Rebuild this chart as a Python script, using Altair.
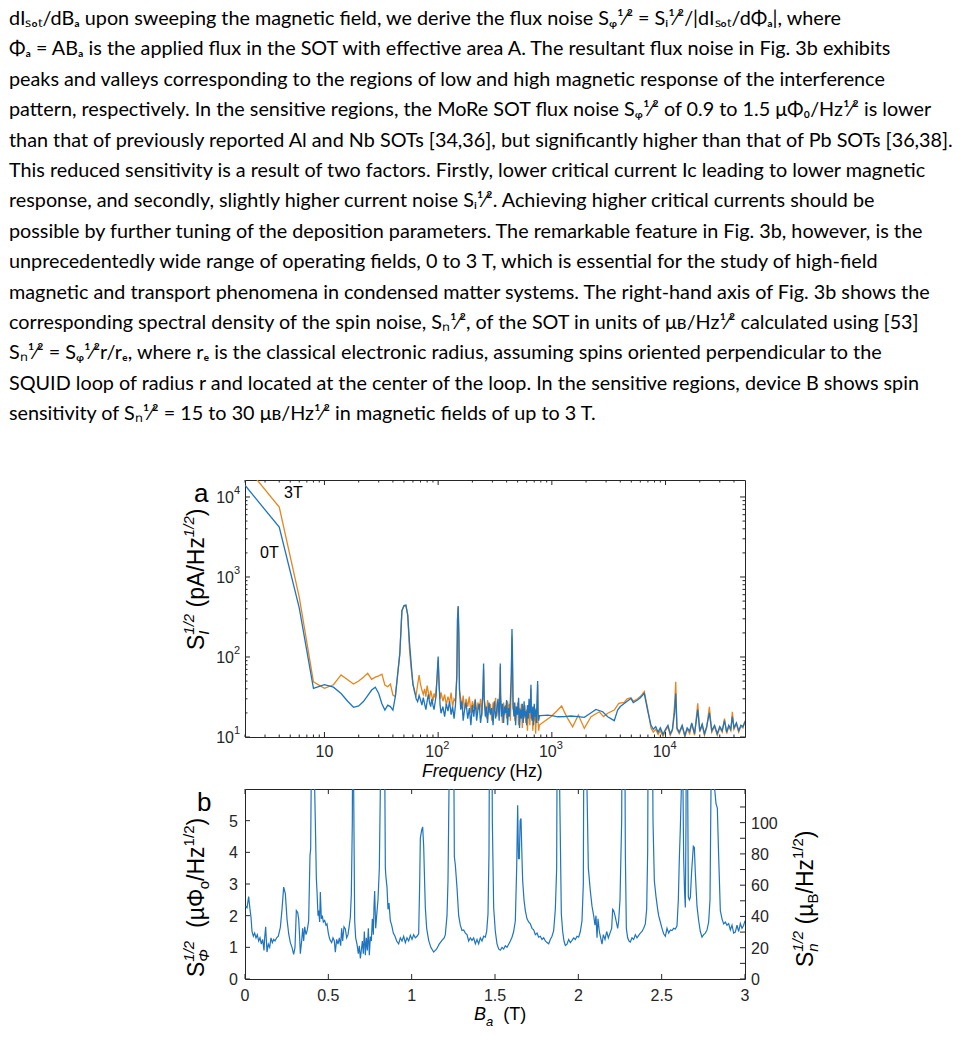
import altair as alt
import pandas as pd

# ---------------- text of the page ----------------
PARAGRAPH = [
    "dIₛₒₜ/dBₐ upon sweeping the magnetic field, we derive the flux noise Sᵩ¹⁄² = Sᵢ¹⁄²/|dIₛₒₜ/dΦₐ|, where",
    "Φₐ = ABₐ is the applied flux in the SOT with effective area A. The resultant flux noise in Fig. 3b exhibits",
    "peaks and valleys corresponding to the regions of low and high magnetic response of the interference",
    "pattern, respectively. In the sensitive regions, the MoRe SOT flux noise Sᵩ¹⁄² of 0.9 to 1.5 μΦ₀/Hz¹⁄² is lower",
    "than that of previously reported Al and Nb SOTs [34,36], but significantly higher than that of Pb SOTs [36,38].",
    "This reduced sensitivity is a result of two factors. Firstly, lower critical current Ic leading to lower magnetic",
    "response, and secondly, slightly higher current noise Sᵢ¹⁄². Achieving higher critical currents should be",
    "possible by further tuning of the deposition parameters. The remarkable feature in Fig. 3b, however, is the",
    "unprecedentedly wide range of operating fields, 0 to 3 T, which is essential for the study of high-field",
    "magnetic and transport phenomena in condensed matter systems. The right-hand axis of Fig. 3b shows the",
    "corresponding spectral density of the spin noise, Sₙ¹⁄², of the SOT in units of μʙ/Hz¹⁄² calculated using [53]",
    "Sₙ¹⁄² = Sᵩ¹⁄²r/rₑ, where rₑ is the classical electronic radius, assuming spins oriented perpendicular to the",
    "SQUID loop of radius r and located at the center of the loop. In the sensitive regions, device B shows spin",
    "sensitivity of Sₙ¹⁄² = 15 to 30 μʙ/Hz¹⁄² in magnetic fields of up to 3 T.",
]

# ---------------- panel a : current noise spectra ----------------
freq_0T = [2, 4, 6, 8, 10, 12, 14, 16, 18, 20, 22, 24, 26, 28, 30, 32, 34, 36, 38, 40,
           42, 44, 46, 48, 50, 52, 54, 56, 58, 60, 62, 64, 66, 68, 70, 72, 74, 76, 78, 80,
           82, 84, 86, 88, 90, 92, 94, 96, 98, 100, 102, 104, 106, 110, 114, 118, 122, 126, 130, 134,
           138, 142, 146, 148, 150, 152, 154, 158, 162, 166, 170, 176, 182, 188, 194, 200, 206, 212, 218, 224,
           230, 236, 242, 248, 251, 254, 260, 266, 272, 280, 288, 296, 304, 312, 320, 328, 336, 344, 350, 352,
           354, 360, 368, 376, 384, 392, 400, 408, 416, 424, 432, 440, 446, 450, 456, 464, 472, 480, 490, 500,
           510, 520, 530, 540, 550, 560, 570, 580, 590, 600, 610, 620, 630, 640, 650, 655, 660, 670, 680, 690,
           700, 710, 720, 730, 740, 750, 756, 766, 777, 800, 919, 1000, 1125, 1300, 1470, 1700, 1930, 2200, 2440, 2800,
           3100, 3540, 3790, 4000, 4330, 4600, 4960, 5200, 5670, 6000, 6500, 6950, 7440, 7800, 8200, 8600, 9000, 9500, 10000, 10500,
           11000, 11500, 12000, 12300, 12600, 13200, 14000, 14800, 15500, 16300, 17000, 18000, 19200, 20000, 21000, 22000, 23000, 24300, 25500, 27000,
           28500, 30000, 31500, 33000, 34500, 36000, 37500, 38700, 40000, 42000, 44000, 46000, 48000, 50000]
noise_0T = [14000, 4200, 410, 40.6, 45, 42, 35, 28, 23.5, 24.5, 27.7, 33, 38.6, 41.8, 35, 26, 21.7, 25, 24, 21.7,
            31.9, 60, 110, 380, 440, 447, 330, 150, 80, 45, 38, 30, 27.7, 33, 29, 25, 31, 26, 22, 28,
            34, 27, 24, 30, 25, 22, 27, 33, 60, 101, 45, 25, 19.8, 24, 18, 26, 21, 28, 19, 24,
            17, 25, 60, 300, 434, 200, 40, 22, 28, 16, 21, 27, 17, 23, 14, 25, 18, 29, 16, 22,
            26, 15, 20, 40, 83, 30, 18, 24, 15, 27, 19, 23, 14, 28, 17, 22, 30, 16, 40, 83,
            35, 18, 26, 15, 24, 20, 29, 14, 23, 18, 30, 60, 224, 120, 25, 18, 27, 14, 24, 19,
            31, 13, 22, 17, 26, 15, 28, 18, 21, 14, 25, 17, 30, 20, 30, 45, 20, 16, 24, 14,
            26, 18, 22, 15, 27, 50, 20, 16, 18.5, 18.5, 18.8, 18.5, 17.9, 18.0, 18.3, 18.0, 17.6, 20, 22.1, 20.7,
            17.9, 16, 21.7, 24, 26.3, 28, 30.4, 27, 29, 31, 35.1, 21.7, 14.1, 12.5, 13.5, 11.5, 13, 10.8, 12.5, 14,
            11, 12.5, 20, 35, 13, 11.5, 14, 10.5, 13, 11.8, 15, 11, 22, 12, 14.5, 11, 13.5, 20, 12, 14,
            11, 13.5, 12, 16, 11.5, 14, 12.5, 18, 13, 15, 12, 14, 13.5, 15.5]

freq_3T = [2, 4, 6, 8, 10, 12, 14, 16, 18, 20, 22, 24, 26, 28, 30, 32, 34, 36, 38, 40,
           42, 44, 46, 48, 50, 52, 54, 56, 58, 60, 62, 64, 66, 68, 70, 72, 74, 76, 78, 80,
           82, 84, 86, 88, 90, 92, 94, 96, 98, 100, 102, 104, 106, 110, 114, 118, 122, 126, 130, 134,
           138, 142, 146, 148, 150, 152, 154, 158, 162, 166, 170, 176, 182, 188, 194, 200, 206, 212, 218, 224,
           230, 236, 242, 248, 251, 254, 260, 266, 272, 280, 288, 296, 304, 312, 320, 328, 336, 344, 350, 352,
           354, 360, 368, 376, 384, 392, 400, 408, 416, 424, 432, 440, 446, 450, 456, 464, 472, 480, 490, 500,
           510, 520, 530, 540, 550, 560, 570, 580, 590, 600, 610, 620, 630, 640, 650, 655, 660, 670, 680, 690,
           700, 710, 720, 730, 740, 750, 756, 766, 777, 850, 980, 1100, 1220, 1300, 1377, 1524, 1710, 1930, 2210, 2620,
           2850, 3100, 3540, 3880, 4330, 4600, 4960, 5200, 5670, 6000, 6500, 6950, 7440, 7800, 8200, 8600, 9000, 9500, 10000, 10500,
           11000, 11500, 12000, 12300, 12600, 13200, 14000, 14800, 15500, 16300, 17000, 18000, 19200, 20000, 21000, 22000, 23000, 24300, 25500, 27000,
           28500, 30000, 31500, 33000, 34500, 36000, 37500, 38700, 40000, 42000, 44000, 46000, 48000, 50000]
noise_3T = [25000, 7500, 560, 49, 40.6, 45, 59.6, 52, 46, 50, 56, 62.5, 52.5, 56, 58, 61, 44.7, 42.5, 46, 33.5,
            32, 60, 110, 380, 430, 440, 340, 122, 70, 46.9, 36, 33, 45, 59.6, 45, 38.6, 34, 40, 32, 44,
            36, 30, 38, 33, 28, 35, 31, 40, 55, 90, 42, 30, 36, 28, 34, 25, 32, 27, 36, 24,
            30, 28, 55, 290, 420, 180, 38, 30, 25, 33, 22, 30, 24, 32, 20, 28, 23, 30, 19, 27,
            22, 30, 18, 38, 70, 30, 24, 17, 29, 20, 26, 16, 27, 21, 31, 18, 24, 28, 45, 75,
            30, 22, 15, 27, 19, 25, 17, 28, 21, 26, 16, 50, 180, 90, 22, 27, 16, 24, 19, 27,
            14, 23, 18, 26, 13, 21, 17, 25, 15, 22, 12, 20, 24, 14, 26, 40, 17, 22, 12, 19,
            16, 23, 11, 18, 15, 45, 16, 12, 14.1, 15.5, 17.9, 21, 24.4, 20, 17.1, 13.4, 18.8, 12.8, 17.9, 20.7,
            18, 19.8, 21.7, 26.3, 27, 30, 31, 28, 30, 32, 37, 23, 13, 11.5, 12.5, 10.8, 12, 10.2, 12, 13.5,
            10.5, 12, 25, 49, 12.5, 11, 13.5, 10, 12.5, 11, 14.5, 10.5, 26.3, 11.5, 14, 10.5, 13, 23.9, 11.5, 13.5,
            10.5, 13, 11.5, 17, 11, 13.5, 12, 20.7, 12.5, 14.5, 11.5, 13.5, 13, 16]

# ---------------- panel b : flux noise vs field ----------------
field_T = [0.004, 0.012, 0.022, 0.030, 0.036, 0.042, 0.050, 0.058, 0.066, 0.074, 0.082, 0.090, 0.098, 0.106, 0.114, 0.118, 0.124, 0.132, 0.140, 0.148,
           0.156, 0.164, 0.172, 0.180, 0.190, 0.200, 0.212, 0.222, 0.232, 0.242, 0.252, 0.262, 0.272, 0.282, 0.292, 0.300, 0.308, 0.316, 0.322, 0.328,
           0.332, 0.340, 0.346, 0.352, 0.358, 0.366, 0.374, 0.382, 0.390, 0.394, 0.400, 0.405, 0.412, 0.418, 0.422, 0.428, 0.432, 0.438, 0.442, 0.448,
           0.452, 0.458, 0.464, 0.470, 0.478, 0.486, 0.492, 0.500, 0.506, 0.512, 0.520, 0.528, 0.536, 0.542, 0.550, 0.558, 0.566, 0.574, 0.580, 0.586,
           0.594, 0.602, 0.610, 0.618, 0.626, 0.632, 0.638, 0.644, 0.648, 0.652, 0.658, 0.664, 0.672, 0.680, 0.686, 0.692, 0.698, 0.704, 0.710, 0.716,
           0.722, 0.728, 0.734, 0.740, 0.746, 0.752, 0.758, 0.764, 0.770, 0.774, 0.778, 0.784, 0.790, 0.798, 0.806, 0.812, 0.816, 0.822, 0.828, 0.836,
           0.842, 0.846, 0.852, 0.858, 0.864, 0.872, 0.880, 0.890, 0.900, 0.910, 0.922, 0.932, 0.942, 0.952, 0.962, 0.972, 0.982, 0.992, 1.002, 1.012,
           1.022, 1.032, 1.042, 1.048, 1.052, 1.060, 1.066, 1.072, 1.078, 1.082, 1.090, 1.102, 1.115, 1.132, 1.150, 1.165, 1.182, 1.195, 1.202, 1.212,
           1.218, 1.224, 1.230, 1.240, 1.250, 1.256, 1.262, 1.272, 1.282, 1.292, 1.302, 1.312, 1.322, 1.332, 1.342, 1.352, 1.362, 1.372, 1.382, 1.392,
           1.402, 1.412, 1.422, 1.432, 1.442, 1.450, 1.458, 1.464, 1.470, 1.478, 1.484, 1.492, 1.502, 1.512, 1.522, 1.532, 1.542, 1.552, 1.562, 1.572,
           1.582, 1.592, 1.602, 1.612, 1.622, 1.630, 1.636, 1.641, 1.646, 1.651, 1.656, 1.662, 1.666, 1.674, 1.682, 1.692, 1.702, 1.712, 1.722, 1.732,
           1.742, 1.752, 1.762, 1.772, 1.782, 1.792, 1.802, 1.812, 1.822, 1.832, 1.842, 1.852, 1.862, 1.870, 1.876, 1.882, 1.888, 1.898, 1.906, 1.914,
           1.922, 1.932, 1.942, 1.952, 1.962, 1.972, 1.982, 1.992, 2.002, 2.012, 2.022, 2.030, 2.036, 2.044, 2.052, 2.060, 2.072, 2.082, 2.092, 2.100,
           2.106, 2.112, 2.118, 2.126, 2.134, 2.142, 2.150, 2.160, 2.170, 2.180, 2.190, 2.200, 2.206, 2.212, 2.220, 2.228, 2.236, 2.242, 2.250, 2.260,
           2.266, 2.276, 2.282, 2.288, 2.296, 2.304, 2.312, 2.322, 2.332, 2.342, 2.352, 2.362, 2.372, 2.382, 2.392, 2.402, 2.410, 2.416, 2.422, 2.440,
           2.448, 2.456, 2.466, 2.476, 2.482, 2.492, 2.502, 2.512, 2.522, 2.532, 2.542, 2.552, 2.562, 2.572, 2.582, 2.592, 2.600, 2.606, 2.612, 2.618,
           2.622, 2.628, 2.632, 2.637, 2.642, 2.646, 2.650, 2.654, 2.660, 2.666, 2.672, 2.680, 2.690, 2.696, 2.702, 2.712, 2.722, 2.732, 2.742, 2.752,
           2.762, 2.772, 2.782, 2.790, 2.796, 2.802, 2.810, 2.818, 2.826, 2.834, 2.842, 2.852, 2.862, 2.872, 2.882, 2.892, 2.902, 2.912, 2.922, 2.932,
           2.942, 2.952, 2.962, 2.972, 2.982, 2.992, 3.000]
flux_noise = [2.3, 2.25, 2.6, 2.2, 1.95, 1.5, 1.35, 1.45, 1.3, 1.4, 1.2, 1.3, 1.1, 1.25, 0.9, 1.3, 1.65, 0.85, 1.1, 1.0,
              1.3, 1.15, 1.25, 1.2, 1.3, 1.35, 1.63, 2.2, 2.9, 2.7, 1.9, 1.43, 1.15, 1.0, 0.78, 1.0, 2.16, 2.1, 1.9, 1.3,
              0.8, 1.2, 1.6, 1.2, 1.65, 1.4, 1.55, 1.84, 3.9, 4.1, 8, 14, 12, 6, 4.97, 3.2, 2.78, 2.0, 2.16, 1.8,
              2.75, 1.9, 2.0, 1.8, 1.85, 1.7, 1.74, 1.45, 1.3, 1.22, 1.15, 1.3, 1.2, 0.85, 1.25, 1.1, 1.3, 1.05, 1.6, 1.2,
              1.65, 1.58, 1.3, 1.4, 1.7, 1.95, 2.68, 5, 12, 6, 1.84, 1.3, 1.1, 0.8, 1.05, 0.65, 0.9, 1.2, 0.8, 1.5,
              0.75, 1.3, 0.9, 1.6, 0.75, 1.34, 1.2, 1.9, 1.4, 2.3, 2.78, 1.6, 2.0, 2.5, 3.5, 6, 11, 13, 11, 9,
              3.51, 3.2, 2.9, 2.2, 2.4, 1.84, 1.7, 1.45, 1.35, 1.2, 1.11, 1.3, 1.2, 1.35, 1.15, 1.3, 1.2, 1.38, 1.25, 1.4,
              1.3, 1.35, 1.43, 3.0, 4.45, 4.7, 4.8, 4.2, 3.0, 2.26, 1.6, 1.22, 1.0, 0.85, 0.95, 1.1, 1.22, 1.3, 1.4, 2.0,
              3.1, 6, 12, 14, 10, 3.87, 3.6, 2.88, 2.0, 1.7, 1.53, 1.55, 1.45, 1.4, 1.2, 1.3, 1.22, 1.3, 1.11, 1.25,
              1.11, 1.3, 1.2, 1.35, 1.32, 1.5, 2.05, 4, 12, 12, 5, 2.26, 1.5, 1.11, 0.95, 0.91, 1.0, 0.95, 1.05, 1.0,
              1.1, 1.2, 1.32, 1.5, 1.84, 3.5, 5.49, 3.8, 3.8, 5.0, 5.07, 3.8, 3.1, 2.5, 2.16, 1.9, 1.8, 1.74, 1.6, 1.55,
              1.4, 1.45, 1.32, 1.35, 1.25, 1.3, 1.2, 1.15, 1.11, 1.25, 1.35, 1.53, 2.2, 3.5, 12, 12, 6, 2.05, 1.5, 1.2,
              1.06, 1.1, 1.25, 1.15, 1.22, 1.3, 1.25, 1.35, 1.32, 1.5, 1.84, 3.0, 12, 12, 6, 3.5, 2.78, 2.3, 2.0, 1.7,
              2.0, 1.3, 1.9, 1.5, 1.3, 1.1, 1.4, 1.25, 1.5, 1.3, 1.45, 1.6, 2.2, 2.16, 2.0, 1.8, 1.6, 1.84, 2.5, 5,
              12, 12, 4, 1.6, 1.3, 1.2, 1.17, 1.3, 1.25, 1.4, 1.3, 1.38, 1.45, 1.5, 1.6, 1.74, 2.2, 4, 12, 12,
              5, 3.1, 2.6, 2.2, 2.0, 1.8, 1.6, 1.43, 1.35, 1.6, 1.45, 1.55, 1.53, 1.6, 1.58, 1.68, 2.5, 3.8, 4.76, 6,
              12, 6, 3.82, 2.8, 2.26, 5, 12, 8, 2.6, 2.5, 2.57, 3.41, 4.19, 4.15, 3.35, 2.3, 1.84, 1.5, 1.32, 1.4,
              1.45, 1.55, 1.8, 2.5, 6, 12, 8, 6, 5.54, 5.4, 3.87, 2.16, 1.9, 1.74, 1.8, 1.7, 1.75, 1.55, 1.7, 1.45,
              1.48, 1.7, 1.5, 1.75, 1.6, 1.7, 1.84]

# ---------------- ticks and tick labels ----------------
A_MAJOR = [10, 100, 1000, 10000]
A_EXP = ["1", "2", "3", "4"]
A_X_MINOR = [2, 3, 4, 5, 6, 7, 8, 9, 20, 30, 40, 50, 60, 70, 80, 90, 200, 300, 400, 500, 600, 700, 800, 900,
             2000, 3000, 4000, 5000, 6000, 7000, 8000, 9000, 20000, 30000, 40000]
A_Y_MINOR = [20, 30, 40, 50, 60, 70, 80, 90, 200, 300, 400, 500, 600, 700, 800, 900,
             2000, 3000, 4000, 5000, 6000, 7000, 8000, 9000]
B_X_TICKS = [0, 0.5, 1, 1.5, 2, 2.5, 3]
B_X_LABELS = ["0", "0.5", "1", "1.5", "2", "2.5", "3"]
B_YL_TICKS = [0, 1, 2, 3, 4, 5]
B_YL_LABELS = ["0", "1", "2", "3", "4", "5"]
B_YR_TICKS = [0, 10, 20, 30, 40, 50, 60, 70, 80, 90, 100, 110]
B_YR_VALUES = [0, 20, 40, 60, 80, 100]
B_YR_LABELS = ["0", "20", "40", "60", "80", "100"]

A_W, A_H = 500, 257
B_W, B_H = 500, 190

BLUE = "#1f74c0"
ORANGE = "#e6861c"
AX = "#262626"
FONT = "Liberation Sans"
ONE = pd.DataFrame({"k": [0]})

# Arial/Liberation Sans advance widths (em)
W = {" ": 0.278, "(": 0.333, ")": 0.333, "/": 0.278, "S": 0.667, "p": 0.556, "A": 0.667,
     "H": 0.722, "z": 0.5, "I": 0.278, "T": 0.611, "B": 0.667, "a": 0.556, "µ": 0.576,
     "Φ": 0.778, "o": 0.556, "n": 0.556, "F": 0.611, "r": 0.333, "e": 0.556, "q": 0.556,
     "u": 0.556, "c": 0.5, "y": 0.5}


def tw(s, size):
    return sum(W.get(c, 0.556) for c in s) * size


def txt(s, x, y, size, italic=False, angle=0, align="left", baseline="alphabetic", font=FONT, color="black"):
    kw = dict(align=align, baseline=baseline, fontSize=size, font=font, color=color, angle=angle)
    if italic:
        kw["fontStyle"] = "italic"
    return alt.Chart(ONE).mark_text(**kw).encode(x=alt.value(x), y=alt.value(y), text=alt.value(s))


def rich(pieces, x0, y0, vertical=False):
    """pieces: (text, size, italic, baseline shift up, advances). Blank text only advances."""
    out, adv = [], 0.0
    for text, size, italic, shift, advance in pieces:
        if text.strip():
            if vertical:
                out.append(txt(text, x0 - shift, y0 - adv, size, italic, angle=270))
            else:
                out.append(txt(text, x0 + adv, y0 - shift, size, italic))
        if advance:
            adv += tw(text, size)
    return out


def hticks(vals, scale, h, length):
    d = pd.DataFrame({"v": vals})
    base = alt.Chart(d).mark_rule(color=AX, strokeWidth=1)
    xenc = alt.X("v:Q", scale=scale, axis=None)
    return [base.encode(x=xenc, y=alt.value(h), y2=alt.value(h - length)),
            base.encode(x=xenc, y=alt.value(0), y2=alt.value(length))]


def vticks(vals, scale, w, length, left=True, right=True):
    d = pd.DataFrame({"v": vals})
    base = alt.Chart(d).mark_rule(color=AX, strokeWidth=1)
    yenc = alt.Y("v:Q", scale=scale, axis=None)
    out = []
    if left:
        out.append(base.encode(y=yenc, x=alt.value(0), x2=alt.value(length)))
    if right:
        out.append(base.encode(y=yenc, x=alt.value(w), x2=alt.value(w - length)))
    return out


def xlabels(vals, labels, scale, y, size=16, dx=0, align="center", baseline="top"):
    d = pd.DataFrame({"v": vals, "t": labels})
    return alt.Chart(d).mark_text(align=align, baseline=baseline, fontSize=size, font=FONT, color=AX,
                                  dx=dx, angle=0).encode(
        x=alt.X("v:Q", scale=scale, axis=None), y=alt.value(y), text="t:N")


def ylabels(vals, labels, scale, x, size=16, dy=0, align="right", baseline="middle"):
    d = pd.DataFrame({"v": vals, "t": labels})
    return alt.Chart(d).mark_text(align=align, baseline=baseline, fontSize=size, font=FONT, color=AX,
                                  dy=dy, angle=0).encode(
        y=alt.Y("v:Q", scale=scale, axis=None), x=alt.value(x), text="t:N")


# ================= panel a =================
xa = alt.Scale(type="log", domain=[2, 50000], nice=False)
ya = alt.Scale(type="log", domain=[10, 16300], nice=False)

df0 = pd.DataFrame({"f": freq_0T, "s": noise_0T})
df3 = pd.DataFrame({"f": freq_3T, "s": noise_3T})

line3 = alt.Chart(df3).mark_line(color=ORANGE, strokeWidth=1.3, clip=True).encode(
    x=alt.X("f:Q", scale=xa, axis=None), y=alt.Y("s:Q", scale=ya, axis=None))
line0 = alt.Chart(df0).mark_line(color=BLUE, strokeWidth=1.3, clip=True).encode(
    x=alt.X("f:Q", scale=xa, axis=None), y=alt.Y("s:Q", scale=ya, axis=None))

paragraph = alt.Chart(ONE).mark_text(align="left", baseline="top", font="Lato", fontSize=19.8,
                                     lineHeight=30.4, color="black", angle=0).encode(
    x=alt.value(-236), y=alt.value(-471), text=alt.value(PARAGRAPH))

a_layers = [paragraph, line3, line0]
a_layers += hticks(A_MAJOR, xa, A_H, 5) + hticks(A_X_MINOR, xa, A_H, 2.5)
a_layers += vticks(A_MAJOR, ya, A_W, 5) + vticks(A_Y_MINOR, ya, A_W, 2.5)
# tick labels: 10, 10², 10³, 10⁴ along x ; 10¹ .. 10⁴ along y
a_layers += [xlabels(A_MAJOR[:1], ["10"], xa, A_H + 7),
             xlabels(A_MAJOR[1:], ["10"] * 3, xa, A_H + 7, dx=-4),
             xlabels(A_MAJOR[1:], A_EXP[1:], xa, A_H + 3, size=11, dx=5, align="left"),
             ylabels(A_MAJOR, ["10"] * 4, ya, -11, dy=1),
             ylabels(A_MAJOR, A_EXP, ya, -11, size=11, dy=-6, align="left")]
a_layers += [txt("a", -51, 22, 26), txt("3T", 39, 18, 16), txt("0T", 15, 78, 16)]
a_layers += rich([("Frequency", 17.5, True, 0, True), (" ", 17.5, False, 0, True),
                  ("(Hz)", 17.5, False, 0, True)], 177, 297)
a_layers += rich([("S", 23, False, 0, True), ("I", 15, True, -5, False), ("1/2", 15, True, 10, True),
                  (" ", 23, False, 0, True), ("(pA/Hz", 23, False, 0, True), ("1/2", 15, True, 10, True),
                  (")", 23, False, 0, True)], -41, 170, vertical=True)

chart_a = alt.layer(*a_layers).properties(width=A_W, height=A_H)

# ================= panel b =================
xb = alt.Scale(domain=[0, 3], nice=False, zero=False)
yb = alt.Scale(domain=[0, 6], nice=False)
yr = alt.Scale(domain=[0, 121.5], nice=False)

dfb = pd.DataFrame({"B": field_T, "S": flux_noise})
lineb = alt.Chart(dfb).mark_line(color=BLUE, strokeWidth=1.2, clip=True).encode(
    x=alt.X("B:Q", scale=xb, axis=None), y=alt.Y("S:Q", scale=yb, axis=None))

b_layers = [ylabels(B_YL_TICKS, B_YL_LABELS, yb, -7, dy=1),
            ylabels(B_YR_VALUES, B_YR_LABELS, yr, B_W + 6, dy=1, align="left"),
            xlabels(B_X_TICKS, B_X_LABELS, xb, B_H + 9),
            lineb]
b_layers += hticks(B_X_TICKS, xb, B_H, 5)
b_layers += vticks(B_YL_TICKS, yb, B_W, 5, left=True, right=False)
b_layers += vticks(B_YR_TICKS, yr, B_W, 5, left=False, right=True)
b_layers += [txt("b", -48, 22, 26)]
b_layers += rich([("B", 18, True, 0, True), ("a", 13, True, -6, True), ("  ", 18, False, 0, True),
                  ("(T)", 18, False, 0, True)], 229, 231)
b_layers += rich([("S", 23, False, 0, True), ("Φ", 15, True, -5, False), ("1/2", 15, True, 10, True),
                  ("  ", 23, False, 0, True), ("(µΦ", 23, False, 0, True), ("o", 15, False, -5, True),
                  ("/Hz", 23, False, 0, True), ("1/2", 15, False, 10, True), (")", 23, False, 0, True)],
                 -41, 188, vertical=True)
b_layers += rich([("S", 23, False, 0, True), ("n", 15, True, -5, False), ("1/2", 15, True, 10, True),
                  (" ", 23, False, 0, True), ("(µ", 23, False, 0, True), ("B", 15, False, -5, True),
                  ("/Hz", 23, False, 0, True), ("1/2", 15, False, 10, True), (")", 23, False, 0, True)],
                 568, 178, vertical=True)

chart_b = alt.layer(*b_layers).resolve_scale(y="independent").properties(width=B_W, height=B_H)

chart = alt.vconcat(chart_a, chart_b, spacing=52, bounds="flush").properties(padding=0).configure_view(
    stroke=AX, strokeWidth=1)

chart.save("out.html", embed_options={"renderer": "svg", "actions": False})
